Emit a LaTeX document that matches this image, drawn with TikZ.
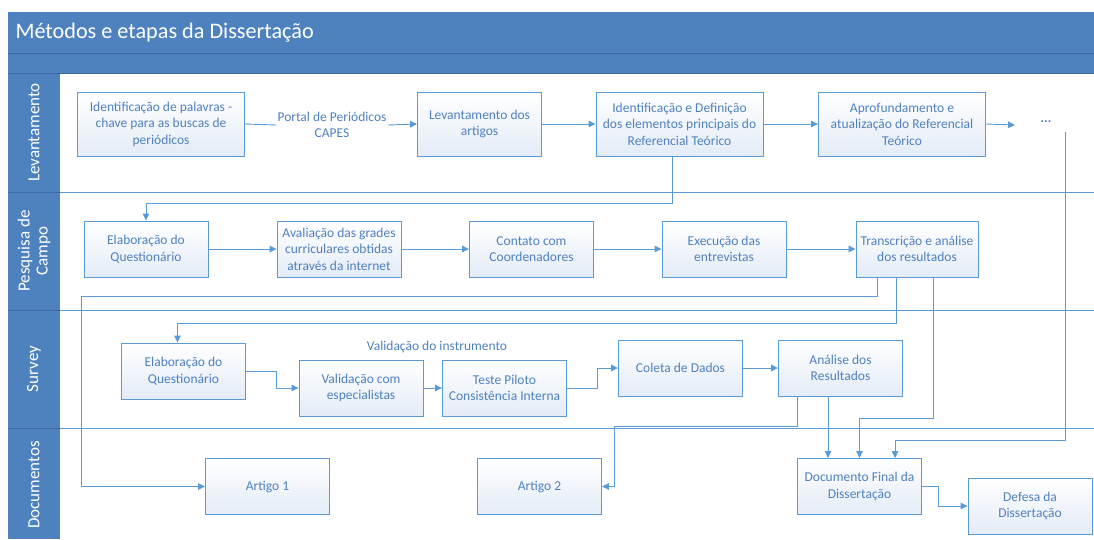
\documentclass[tikz,border=0pt]{standalone}
\usepackage{fontspec}
\setmainfont{Carlito}
\usetikzlibrary{arrows.meta}
\definecolor{headblue}{RGB}{78,130,190}
\definecolor{edgeblue}{RGB}{60,105,160}
\definecolor{flowblue}{RGB}{91,155,213}
\definecolor{textblue}{RGB}{79,129,192}
\definecolor{boxfill}{RGB}{228,236,247}
\begin{document}
\begin{tikzpicture}
  [x=1pt,y=-1pt,
    every node/.style={font=\fontsize{13.5}{16.5}\selectfont,text=textblue},
    stage/.style={draw=flowblue,line width=0.9pt,top color=white,bottom color=boxfill,
      align=center,inner sep=1pt,minimum width=124pt,minimum height=56pt},
    bigstage/.style={stage,minimum width=167pt,minimum height=64pt},
    midstage/.style={stage,minimum height=64pt},
    lanename/.style={rotate=90,text=white,align=center,font=\fontsize{17}{18}\selectfont},
    flow/.style={draw=flowblue,line width=0.9pt},
    arr/.style={flow,-{Triangle[length=7pt,width=6.5pt]}},
  ]
  \useasboundingbox (0,0) rectangle (1094,539);
  \fill[headblue] (8,12) rectangle (1094,73);
  \fill[headblue] (8,73) rectangle (60,539);
  \draw[edgeblue,line width=0.6pt] (8,53) -- (1094,53);
  \draw[edgeblue,line width=0.6pt] (8,73) -- (1094,73);
  \foreach \y in {192,310,428} {
    \draw[edgeblue,line width=0.6pt] (8,\y) -- (60,\y);
    \draw[flowblue,line width=1pt] (60,\y) -- (1094,\y);
  }
  \node[anchor=west,text=white,font=\fontsize{22.2}{24}\selectfont] (title) at (12,33) {Métodos e etapas da Dissertação};
  \node[lanename] (lev) at (34,132.5) {Levantamento};
  \node[lanename] (pes) at (34,251) {Pesquisa de\\Campo};
  \node[lanename] (sur) at (34,369) {Survey};
  \node[lanename] (doc) at (34,485) {Documentos};

  \node[bigstage] (B1) at (161,124) {Identificação de palavras -\\chave para as buscas de\\periódicos};
  \node[align=center,inner sep=1pt] (capes) at (332,125) {Portal de Periódicos\\CAPES};
  \node[midstage] (B2) at (479.5,124) {Levantamento dos\\artigos};
  \node[bigstage] (B3) at (679.5,124) {Identificação e Definição\\dos elementos principais do\\Referencial Teórico};
  \node[bigstage] (B4) at (902,124) {Aprofundamento e\\atualização do Referencial\\Teórico};
  \coordinate (more) at (1015,125);
  \node[font=\bfseries\fontsize{13.5}{16.5}\selectfont] (dots) at (1046,122) {...};
  \coordinate (rv) at (1065,132);

  \node[stage] (P1) at (146,249) {Elaboração do\\Questionário};
  \node[stage] (P2) at (339,249) {Avaliação das grades\\curriculares obtidas\\através da internet};
  \node[stage] (P3) at (531.5,249) {Contato com\\Coordenadores};
  \node[stage] (P4) at (724,249) {Execução das\\entrevistas};
  \node[stage,minimum width=122pt] (P5) at (917,249) {Transcrição e análise\\dos resultados};

  \node[stage] (S1) at (183.5,371) {Elaboração do\\Questionário};
  \node (valid) at (437,347) {Validação do instrumento};
  \node[stage] (S2) at (361,388) {Validação com\\especialistas};
  \node[stage] (S3) at (504.5,388) {Teste Piloto\\Consistência Interna};
  \node[stage] (S4) at (680.5,368) {Coleta de Dados};
  \node[stage] (S5) at (840.5,368) {Análise dos\\Resultados};

  \node[stage] (A1) at (267.5,486.5) {Artigo 1};
  \node[stage] (A2) at (539.5,486.5) {Artigo 2};
  \node[stage] (DF) at (859.5,486.5) {Documento Final da\\Dissertação};
  \node[stage] (DD) at (1030,506) {Defesa da\\Dissertação};

  \draw[flow] (B1.east) -- (capes.west);
  \draw[arr] (capes.east) -- (B2.west);
  \draw[arr] (B2) -- (B3);
  \draw[arr] (B3) -- (B4);
  \draw[arr] (B4.east) -- (more);
  \draw[arr] ([xshift=-7.5pt]B3.south) -- ++(0,47) -| (P1.north);

  \draw[arr] (P1) -- (P2);
  \draw[arr] (P2) -- (P3);
  \draw[arr] (P3) -- (P4);
  \draw[arr] (P4) -- (P5);
  \draw[arr] ([xshift=22pt]P5.south west) -- ++(0,19) -| ([xshift=-124pt]A1.west) -- (A1.west);
  \draw[arr] ([xshift=41pt]P5.south west) -- ++(0,46) -| ([xshift=-6pt]S1.north);
  \draw[arr] ([xshift=78pt]P5.south west) -- ++(0,141) -| (DF.north);

  \draw[arr] (S1.east) -- ++(30,0) |- (S2.west);
  \draw[arr] (S2) -- (S3);
  \draw[arr] (S3.east) -- ++(30,0) |- (S4.west);
  \draw[arr] (S4) -- (S5);
  \draw[arr] ([xshift=19pt]S5.south west) -- ++(0,30) -| ([xshift=12pt]A2.east) -- (A2.east);
  \draw[arr] ([xshift=50pt]S5.south west) -- ([xshift=31pt]DF.north west);
  \draw[arr] (rv) -- ++(0,308) -| ([xshift=98pt]DF.north west);

  \draw[arr] (DF.east) -- ++(16,0) |- (DD.west);
\end{tikzpicture}
\end{document}
